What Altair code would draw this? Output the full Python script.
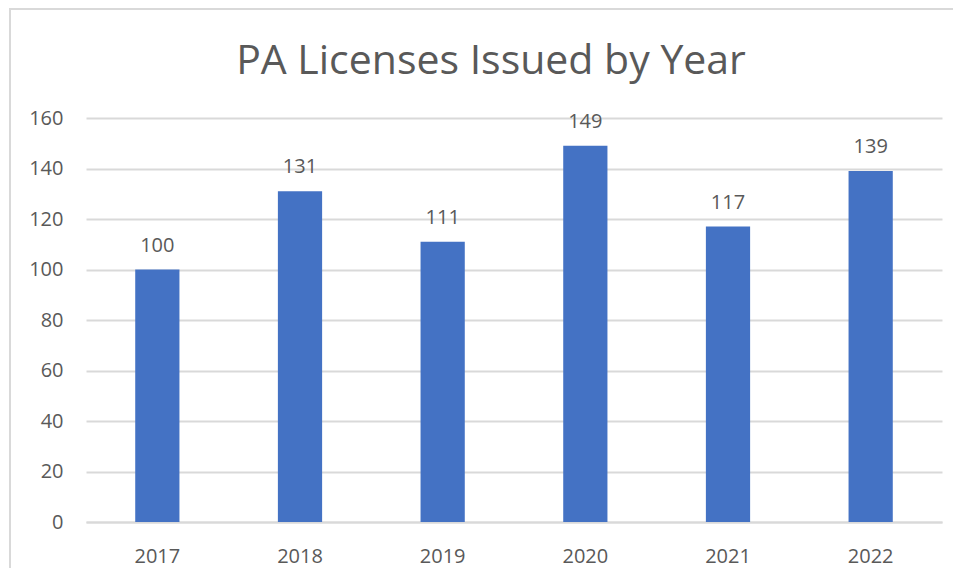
import altair as alt
import pandas as pd

years = ["2017", "2018", "2019", "2020", "2021", "2022"]
licenses = [100, 131, 111, 149, 117, 139]
title_text = "PA Licenses Issued by Year"

df = pd.DataFrame({"year": years, "licenses": licenses})

FONT = "Open Sans"
GRAY = "#595959"
GRID = "#d9d9d9"
BAR = "#4472C4"

x = alt.X("year:N", sort=years, title=None,
          scale=alt.Scale(paddingInner=0.69, paddingOuter=0.345),
          axis=alt.Axis(labelAngle=0, ticks=False, domain=True, domainColor=GRID,
                        domainWidth=2, labelFontSize=20, labelFont=FONT,
                        labelColor=GRAY, labelPadding=24, grid=False))
y = alt.Y("licenses:Q", title=None,
          scale=alt.Scale(domain=[0, 160], nice=False),
          axis=alt.Axis(values=[0, 20, 40, 60, 80, 100, 120, 140, 160], ticks=False,
                        domain=False, labelFontSize=20, labelFont=FONT,
                        labelColor=GRAY, labelPadding=23, grid=True,
                        gridColor=GRID, gridWidth=2))

base = alt.Chart(df)

bars = base.mark_bar(color=BAR).encode(x=x, y=y)
labels = base.mark_text(font=FONT, fontSize=20, color=GRAY, baseline="alphabetic",
                        dy=-18).encode(x=x, y=y, text="licenses:Q")

title = alt.Chart(pd.DataFrame({"t": [title_text]})).mark_text(
    font=FONT, fontSize=41, color=GRAY, align="center", baseline="alphabetic"
).encode(x=alt.value(405), y=alt.value(-44), text="t:N")

border = alt.Chart(pd.DataFrame({"a": [0]})).mark_rect(
    fill=None, stroke=GRID, strokeWidth=2, clip=False
).encode(x=alt.value(-76), x2=alt.value(1000), y=alt.value(-109), y2=alt.value(600))

chart = alt.layer(border, bars, labels, title).properties(
    width=856, height=404,
    padding={"left": 78, "top": 110, "right": 11, "bottom": 46},
    autosize=alt.AutoSizeParams(type="none"),
).configure_view(stroke=None)

chart.save("out.html", embed_options={"renderer": "svg", "actions": False})
